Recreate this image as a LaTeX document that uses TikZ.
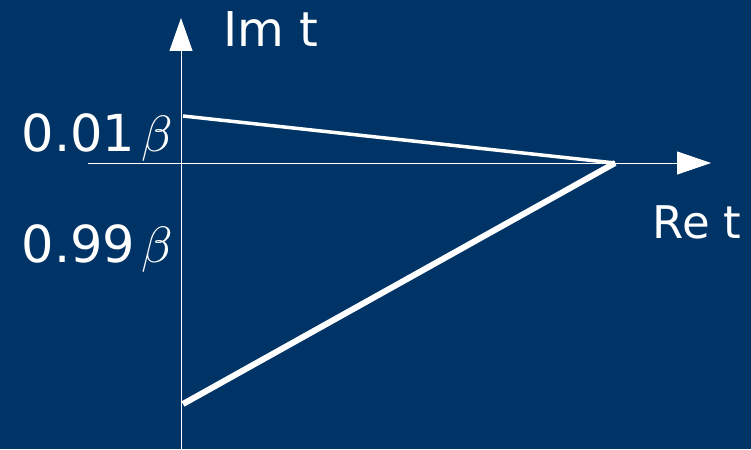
\documentclass[tikz,border=0pt]{standalone}
\usepackage{unicode-math}
\setmainfont{DejaVu Sans}
\setmathfont{Latin Modern Math}
\usetikzlibrary{arrows.meta}
\definecolor{bg}{RGB}{0,51,102}
\tikzset{
  axis/.style={white, line width=0.9pt},
  lbl/.style={white, inner sep=0pt, anchor=base west},
  num/.style={white, inner sep=0pt, anchor=base west, font=\fontsize{51}{60}\selectfont},
}
\newcommand{\bet}{\hspace{6pt}$\beta$}
\begin{document}
\begin{tikzpicture}[x=1pt,y=-1pt]
\fill[bg] (0,0) rectangle (751,449);
\useasboundingbox (0,0) rectangle (751,449);
\coordinate (xs) at (88,163);
\coordinate (xe) at (711,163);
\coordinate (ys) at (181,449);
\coordinate (ye) at (181,18);
\coordinate (p1) at (183,116);
\coordinate (p2) at (183,404);
\coordinate (o) at (615,163);
\draw[axis,-{Triangle[length=34pt,width=23pt]}] (xs) -- (xe);
\draw[axis,-{Triangle[length=33pt,width=23pt]}] (ys) -- (ye);
\draw[white, line width=3.5pt] (p1) -- (o);
\draw[white, line width=6pt] (p2) -- (o);
\node[lbl, font=\fontsize{48}{56}\selectfont] (im) at (223,47) {Im t};
\node[lbl, font=\fontsize{45}{54}\selectfont] (re) at (652.5,238) {Re t};
\node[num] (a) at (21.5,152) {0.01\bet};
\node[num] (b) at (21.5,262) {0.99\bet};
\end{tikzpicture}
\end{document}
